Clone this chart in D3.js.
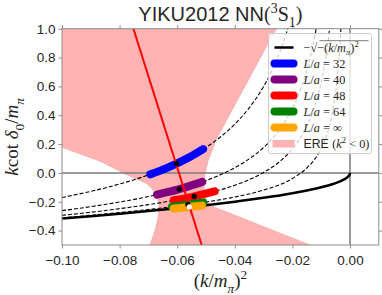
<!DOCTYPE html>
<html>
<head>
<meta charset="utf-8">
<script src="https://cdn.jsdelivr.net/npm/d3@7"></script>
<style>
body { margin: 0; background: #fff; }
text { font-family: "Liberation Sans", Arial, sans-serif; fill: #262626; }
.math { font-family: "Liberation Serif", "DejaVu Serif", serif; }
</style>
</head>
<body>
<div id="chart"></div>
<script>
const xTicks = [-0.1, -0.08, -0.06, -0.04, -0.02, 0];
const yTicks = [-0.4, -0.2, 0, 0.2, 0.4, 0.6, 0.8, 1.0];

// Luscher curves, [k^2, kcot]
const curveL32 = [[-0.1, -0.171], [-0.09, -0.128], [-0.08, -0.077], [-0.07, -0.014], [-0.06, 0.067], [-0.05, 0.177], [-0.04, 0.338], [-0.035, 0.451], [-0.03, 0.599], [-0.027, 0.714], [-0.024, 0.857], [-0.022, 0.974], [-0.021, 1.04]];
const curveL40 = [[-0.1, -0.262], [-0.09, -0.234], [-0.08, -0.202], [-0.07, -0.164], [-0.06, -0.116], [-0.05, -0.053], [-0.04, 0.036], [-0.035, 0.097], [-0.03, 0.176], [-0.025, 0.286], [-0.02, 0.447], [-0.017, 0.587], [-0.015, 0.711], [-0.0135, 0.828], [-0.012, 0.973], [-0.0117, 1.006]];
const curveL48 = [[-0.1, -0.294], [-0.09, -0.273], [-0.08, -0.248], [-0.07, -0.22], [-0.06, -0.186], [-0.05, -0.143], [-0.04, -0.086], [-0.03, 0.003], [-0.025, 0.069], [-0.02, 0.166], [-0.016, 0.284], [-0.013, 0.417], [-0.011, 0.546], [-0.0095, 0.677], [-0.0085, 0.789], [-0.0078, 0.885], [-0.0072, 0.982], [-0.007, 1.018]];
const curveL64 = [[-0.1, -0.312], [-0.09, -0.294], [-0.08, -0.275], [-0.07, -0.254], [-0.06, -0.23], [-0.05, -0.202], [-0.04, -0.167], [-0.03, -0.119], [-0.02, -0.039], [-0.015, 0.034], [-0.012, 0.102], [-0.01, 0.169], [-0.008, 0.267], [-0.0065, 0.379], [-0.0055, 0.487], [-0.0048, 0.589], [-0.0042, 0.703], [-0.0037, 0.825], [-0.0033, 0.95], [-0.0032, 0.986], [-0.00315, 1.005]];
const boundCurve = [[-0.1, -0.316], [-0.09, -0.3], [-0.08, -0.283], [-0.07, -0.265], [-0.06, -0.245], [-0.05, -0.224], [-0.04, -0.2], [-0.03, -0.173], [-0.02, -0.141], [-0.015, -0.122], [-0.01, -0.1], [-0.007, -0.084], [-0.005, -0.071], [-0.003, -0.055], [-0.002, -0.045], [-0.001, -0.032], [-0.0005, -0.022], [-0.0002, -0.014], [-0.00005, -0.007], [0, 0]];

// thick bands (energy ranges)
const bandL32 = [[-0.0693, -0.010], [-0.065, 0.023], [-0.0602, 0.065], [-0.0555, 0.112], [-0.051, 0.165]];
const bandL40 = [[-0.067, -0.151], [-0.0635, -0.134], [-0.0593, -0.112], [-0.0553, -0.088], [-0.0513, -0.062]];
const bandL48 = [[-0.0612, -0.190], [-0.0577, -0.178], [-0.0541, -0.163], [-0.0505, -0.146], [-0.047, -0.128]];
const bandL64 = [[-0.0618, -0.235], [-0.0591, -0.228], [-0.0563, -0.220], [-0.0536, -0.213], [-0.0509, -0.205]];
const bandInf = [[-0.0612, -0.247], [-0.0588, -0.243], [-0.0563, -0.237], [-0.0538, -0.232], [-0.0514, -0.227]];
const dotsBlack = [[-0.0602, 0.065], [-0.0593, -0.112], [-0.0541, -0.163], [-0.0563, -0.220]];
const dotsWhite = [[-0.0558, -0.236]];

const ereLine = [[-0.0752, 1.0], [-0.0515, -0.5]];
const ereBand = [[-0.1, 1.0], [-0.0255, 1.0], [-0.0278, 0.921], [-0.0372, 0.574], [-0.0463, 0.239], [-0.0492, 0.088], [-0.0504, -0.004], [-0.0507, -0.072], [-0.0507, -0.134], [-0.05, -0.19], [-0.0479, -0.231], [-0.0417, -0.28], [-0.0278, -0.39], [-0.0139, -0.5], [-0.0694, -0.5], [-0.0677, -0.398], [-0.0666, -0.306], [-0.0663, -0.224], [-0.067, -0.155], [-0.0683, -0.12], [-0.0706, -0.074], [-0.0764, -0.023], [-0.0868, 0.081], [-0.1, 0.178]];

const width = 382, height = 295;
const pLeft = 62, pRight = 378.8, pTop = 28.7, pBottom = 245;

const svg = d3.select('#chart').append('svg')
	.attr('width', width)
	.attr('height', height);

const x = d3.scaleLinear().domain([-0.1, 0.01]).range([pLeft, pRight]);
const y = d3.scaleLinear().domain([-0.5, 1.0]).range([pBottom, pTop]);

svg.append('defs').append('clipPath').attr('id', 'plot')
	.append('rect')
	.attr('x', pLeft).attr('y', pTop)
	.attr('width', pRight - pLeft).attr('height', pBottom - pTop);

const plot = svg.append('g').attr('clip-path', 'url(#plot)');

plot.append('path')
	.datum(ereBand)
	.attr('d', d3.line().x((d) => x(d[0])).y((d) => y(d[1])))
	.attr('fill', '#ffb3b3')
	.attr('stroke', '#e8a0a0')
	.attr('stroke-width', 0.6);

plot.append('line')
	.attr('x1', pLeft).attr('x2', pRight)
	.attr('y1', y(0)).attr('y2', y(0))
	.attr('stroke', '#7a7a7a').attr('stroke-width', 1.5);
plot.append('line')
	.attr('x1', x(0)).attr('x2', x(0))
	.attr('y1', pTop).attr('y2', pBottom)
	.attr('stroke', '#7a7a7a').attr('stroke-width', 1.5);

const curveLine = d3.line().x((d) => x(d[0])).y((d) => y(d[1])).curve(d3.curveMonotoneX);

plot.selectAll('.luscher')
	.data([curveL32, curveL40, curveL48, curveL64])
	.join('path')
	.attr('class', 'luscher')
	.attr('d', curveLine)
	.attr('fill', 'none')
	.attr('stroke', '#000')
	.attr('stroke-width', 1.1)
	.attr('stroke-dasharray', '4,2');

plot.append('path')
	.datum(boundCurve)
	.attr('d', curveLine)
	.attr('fill', 'none')
	.attr('stroke', '#000')
	.attr('stroke-width', 2.5);

const bands = [
	{ pts: bandL32, color: 'blue' },
	{ pts: bandL40, color: 'purple' },
	{ pts: bandL48, color: 'red' },
	{ pts: bandL64, color: 'green' },
	{ pts: bandInf, color: 'orange' },
];

plot.selectAll('.band')
	.data(bands)
	.join('path')
	.attr('class', 'band')
	.attr('d', (d) => curveLine(d.pts))
	.attr('fill', 'none')
	.attr('stroke', (d) => d.color)
	.attr('stroke-width', 8)
	.attr('stroke-linecap', 'round');

plot.append('path')
	.datum(ereLine)
	.attr('d', d3.line().x((d) => x(d[0])).y((d) => y(d[1])))
	.attr('stroke', 'red')
	.attr('stroke-width', 2);

plot.selectAll('.dot')
	.data(dotsBlack)
	.join('circle')
	.attr('class', 'dot')
	.attr('cx', (d) => x(d[0]))
	.attr('cy', (d) => y(d[1]))
	.attr('r', 2.6)
	.attr('fill', '#000');

plot.selectAll('.wdot')
	.data(dotsWhite)
	.join('circle')
	.attr('class', 'wdot')
	.attr('cx', (d) => x(d[0]))
	.attr('cy', (d) => y(d[1]))
	.attr('r', 2.6)
	.attr('fill', '#fff');

// frame and ticks
svg.append('rect')
	.attr('x', pLeft).attr('y', pTop)
	.attr('width', pRight - pLeft).attr('height', pBottom - pTop)
	.attr('fill', 'none')
	.attr('stroke', '#8c8c8c')
	.attr('stroke-width', 1);

const fmtX = d3.format('.2f');
const fmtY = d3.format('.1f');

const axB = svg.append('g').attr('transform', `translate(0,${pBottom})`)
	.call(d3.axisBottom(x).tickValues(xTicks).tickFormat(fmtX).tickSize(3.5).tickPadding(6.5));
const axT = svg.append('g').attr('transform', `translate(0,${pTop})`)
	.call(d3.axisTop(x).tickValues(xTicks).tickFormat('').tickSize(3.5));
const axL = svg.append('g').attr('transform', `translate(${pLeft},0)`)
	.call(d3.axisLeft(y).tickValues(yTicks).tickFormat(fmtY).tickSize(3.5).tickPadding(3));
const axR = svg.append('g').attr('transform', `translate(${pRight},0)`)
	.call(d3.axisRight(y).tickValues(yTicks).tickFormat('').tickSize(3.5));

[axB, axT, axL, axR].forEach((a) => {
	a.select('.domain').remove();
	a.selectAll('.tick line').attr('stroke', '#8c8c8c');
	a.selectAll('.tick text')
		.style('font-family', '"Liberation Sans", Arial, sans-serif')
		.style('font-size', '13.5px')
		.attr('fill', '#262626');
});

// math text helper: level 0 normal, -1 subscript, 1 superscript
function mathText(sel, pieces, size) {
	let cur = 0;
	pieces.forEach((p) => {
		const lvl = p.lvl || 0;
		const off = lvl === -1 ? size * 0.3 : lvl === 1 ? -size * 0.42 : 0;
		const ts = sel.append('tspan').text(p.t);
		if (off - cur !== 0) ts.attr('dy', off - cur);
		cur = off;
		ts.attr('font-size', lvl === 0 ? size : size * 0.7);
		if (p.it) ts.style('font-style', 'italic');
		if (p.sans) ts.style('font-family', '"Liberation Sans", Arial, sans-serif');
	});
}

// title
const title = svg.append('text')
	.attr('x', (pLeft + pRight) / 2)
	.attr('y', 21)
	.attr('text-anchor', 'middle')
	.attr('font-size', 20);
title.append('tspan').text('YIKU2012 NN');
mathText(title.append('tspan').attr('class', 'math'), [
	{ t: '(' }, { t: '3', lvl: 1 }, { t: 'S' }, { t: '1', lvl: -1 }, { t: ')' },
], 20);

// axis labels
const xl = svg.append('text')
	.attr('class', 'math')
	.attr('x', (pLeft + pRight) / 2)
	.attr('y', 287)
	.attr('text-anchor', 'middle');
mathText(xl, [
	{ t: '(' }, { t: 'k', it: true }, { t: '/' }, { t: 'm', it: true }, { t: 'π', it: true, lvl: -1 }, { t: ')' }, { t: '2', lvl: 1 },
], 19);

const yl = svg.append('text')
	.attr('class', 'math')
	.attr('transform', `translate(18,${(pTop + pBottom) / 2}) rotate(-90)`)
	.attr('text-anchor', 'middle');
mathText(yl, [
	{ t: 'k', it: true }, { t: 'cot ' }, { t: 'δ', it: true }, { t: '0', lvl: -1 }, { t: '/' }, { t: 'm', it: true }, { t: 'π', it: true, lvl: -1 },
], 19);

// legend
const lgX = 268.5, lgY = 33.5, rowH = 16;
const legend = svg.append('g');
legend.append('rect')
	.attr('x', lgX).attr('y', lgY)
	.attr('width', 103).attr('height', 120)
	.attr('rx', 2)
	.attr('fill', '#fff').attr('fill-opacity', 0.8)
	.attr('stroke', '#cccccc').attr('stroke-width', 1);

const legendItems = [
	{ color: '#000', w: 2.5, label: 'sqrt' },
	{ color: 'blue', w: 8, label: '32' },
	{ color: 'purple', w: 8, label: '40' },
	{ color: 'red', w: 8, label: '48' },
	{ color: 'green', w: 8, label: '64' },
	{ color: 'orange', w: 8, label: '∞' },
	{ color: '#ffb3b3', w: 0, label: 'ERE' },
];

legendItems.forEach((it, i) => {
	const cy = lgY + 14 + i * rowH;
	if (it.w > 0) {
		legend.append('line')
			.attr('x1', lgX + 6).attr('x2', lgX + 25)
			.attr('y1', cy).attr('y2', cy)
			.attr('stroke', it.color)
			.attr('stroke-width', it.w)
			.attr('stroke-linecap', it.w > 3 ? 'round' : 'butt');
	} else {
		legend.append('rect')
			.attr('x', lgX + 4).attr('y', cy - 3.5)
			.attr('width', 22).attr('height', 7.5)
			.attr('fill', it.color);
	}
	const t = legend.append('text')
		.attr('class', 'math')
		.attr('x', lgX + 35)
		.attr('y', cy + 4.3);
	if (it.label === 'sqrt') {
		mathText(t, [
			{ t: '−√' }, { t: '−(' }, { t: 'k', it: true }, { t: '/' }, { t: 'm', it: true }, { t: 'π', it: true, lvl: -1 }, { t: ')' }, { t: '2', lvl: 1 },
		], 12.3);
		legend.append('line')
			.attr('x1', lgX + 51).attr('x2', lgX + 100)
			.attr('y1', cy - 6.8).attr('y2', cy - 6.8)
			.attr('stroke', '#262626').attr('stroke-width', 0.6);
	} else if (it.label === 'ERE') {
		mathText(t, [
			{ t: 'ERE ', sans: true }, { t: '(' }, { t: 'k', it: true }, { t: '2', lvl: 1 }, { t: ' < 0)' },
		], 12.3);
	} else {
		mathText(t, [
			{ t: 'L', it: true }, { t: '/' }, { t: 'a', it: true }, { t: ' = ' + it.label },
		], 12.3);
	}
});
</script>
</body>
</html>
